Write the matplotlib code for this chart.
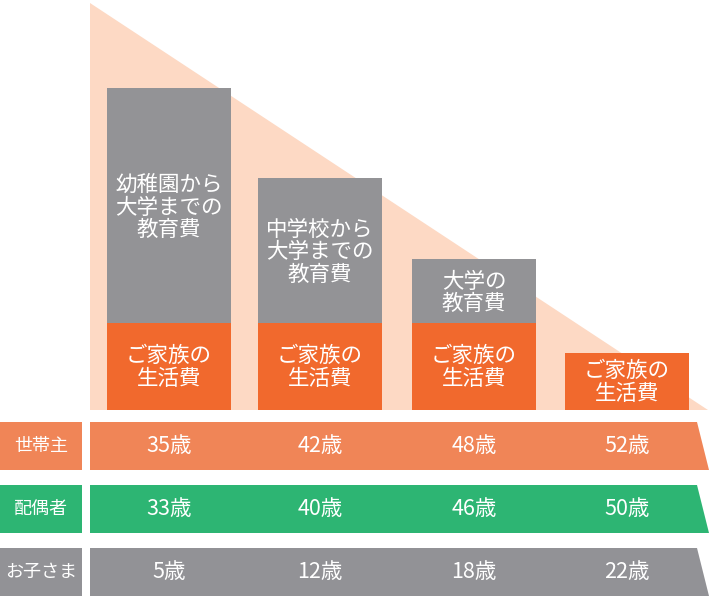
import matplotlib.pyplot as plt
from matplotlib.patches import Polygon

plt.rcParams['font.family'] = ['Noto Sans CJK JP', 'DejaVu Sans']

# data
bar_centers = [169, 320, 474, 627]
edu_tops = [88, 178, 259, None]
life_tops = [323, 323, 323, 353]
edu_labels = ['幼稚園から\n大学までの\n教育費', '中学校から\n大学までの\n教育費', '大学の\n教育費', None]
life_label = 'ご家族の\n生活費'
row_names = ['世帯主', '配偶者', 'お子さま']
ages = [['35歳', '42歳', '48歳', '52歳'],
        ['33歳', '40歳', '46歳', '50歳'],
        ['5歳', '12歳', '18歳', '22歳']]
row_colors = ['#F08557', '#2DB573', '#929296']
row_tops = [422, 485, 548]

base = 410
bar_w = 124
gray = '#939396'
orange = '#F1692D'

fig = plt.figure(figsize=(7.1, 6), dpi=100)
ax = fig.add_axes([0, 0, 1, 1])
ax.set_xlim(0, 710)
ax.set_ylim(600, 0)
ax.axis('off')

# background triangle
ax.add_patch(Polygon([(90, 3), (90, base), (708, base)], closed=True,
                     facecolor='#FDD9C4', edgecolor='none'))

for xc, et, lt, el in zip(bar_centers, edu_tops, life_tops, edu_labels):
    if et is not None:
        ax.bar(xc, lt - et, bottom=et, width=bar_w, color=gray)
        ax.text(xc, (et + lt) / 2 + 2, el, color='white', fontsize=15.5,
                ha='center', va='center', linespacing=1.05)
    ax.bar(xc, base - lt, bottom=lt, width=bar_w, color=orange)
    ax.text(xc, (lt + base) / 2 + 1, life_label, color='white', fontsize=15.5,
            ha='center', va='center', linespacing=1.05)

h = 48
for name, row, col, top in zip(row_names, ages, row_colors, row_tops):
    ax.add_patch(Polygon([(0, top), (82, top), (82, top + h), (0, top + h)],
                         facecolor=col, edgecolor='none'))
    ax.add_patch(Polygon([(90, top), (697, top), (709, top + h), (90, top + h)],
                         facecolor=col, edgecolor='none'))
    ax.text(41, top + h / 2, name, color='white', fontsize=13,
            ha='center', va='center')
    for xc, a in zip(bar_centers, row):
        ax.text(xc, top + h / 2, a, color='white', fontsize=15.5,
                ha='center', va='center')

fig.savefig('out.png', dpi=100)
